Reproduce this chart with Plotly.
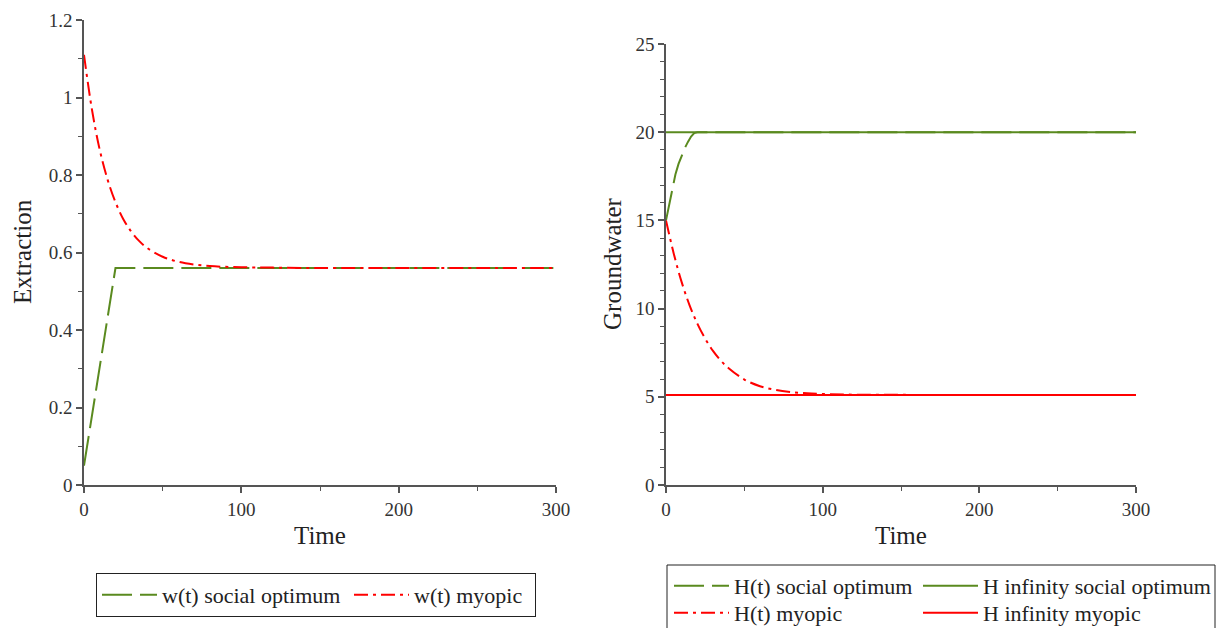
import plotly.graph_objects as go

# ---------------- data ----------------
t_w_social = [0, 20, 300]
w_social = [0.05, 0.56, 0.56]

t_w_myopic = [0, 5, 10, 15, 20, 25, 30, 35, 40, 50, 60, 70, 80, 90, 100, 120, 150, 200, 250, 300]
w_myopic = [1.11, 0.97, 0.865, 0.788, 0.730, 0.686, 0.654, 0.630, 0.612, 0.589, 0.576, 0.569,
            0.565, 0.563, 0.562, 0.561, 0.56, 0.56, 0.56, 0.56]

t_H_social = [0, 2, 4, 6, 8, 10, 12, 14, 16, 18, 20, 300]
H_social = [15, 15.9, 16.8, 17.6, 18.2, 18.7, 19.1, 19.45, 19.75, 19.95, 20, 20]

t_H_myopic = [0, 5, 10, 15, 20, 25, 30, 35, 40, 50, 60, 70, 80, 90, 100, 120, 150, 200, 250, 300]
H_myopic = [15.0, 13.1, 11.5, 10.2, 9.15, 8.3, 7.6, 7.05, 6.62, 5.98, 5.6, 5.39, 5.27,
            5.2, 5.16, 5.12, 5.11, 5.1, 5.1, 5.1]

t_H_inf = [0, 300]
H_inf_social = [20, 20]
H_inf_myopic = [5.1, 5.1]

x_ticks = [0, 100, 200, 300]
names = {
    "ws": "w(t) social optimum", "wm": "w(t) myopic",
    "Hs": "H(t) social optimum", "Hm": "H(t) myopic",
    "His": "H infinity social optimum", "Him": "H infinity myopic",
}

# ---------------- styling ----------------
W, H = 1221, 628
def px(x): return x / W
def py(y): return 1 - y / H

GREEN = "#5a8a1f"
RED = "#ff0000"
FONT = "Liberation Serif"
AXC = "#555555"
DASH_G = "30px,8px"
DASH_R = "14px,5px,3px,5px"

fig = go.Figure()

fig.add_trace(go.Scatter(x=t_w_social, y=w_social, mode="lines", name=names["ws"],
                         line=dict(color=GREEN, width=2, dash=DASH_G),
                         xaxis="x", yaxis="y", legend="legend", legendwidth=182))
fig.add_trace(go.Scatter(x=t_w_myopic, y=w_myopic, mode="lines", name=names["wm"],
                         line=dict(color=RED, width=2, dash=DASH_R, shape="spline"),
                         xaxis="x", yaxis="y", legend="legend", legendwidth=116))

fig.add_trace(go.Scatter(x=t_H_inf, y=H_inf_social, mode="lines", name=names["His"],
                         line=dict(color=GREEN, width=2),
                         xaxis="x2", yaxis="y2", legend="legend3"))
fig.add_trace(go.Scatter(x=t_H_inf, y=H_inf_myopic, mode="lines", name=names["Him"],
                         line=dict(color=RED, width=2),
                         xaxis="x2", yaxis="y2", legend="legend5"))
fig.add_trace(go.Scatter(x=t_H_social, y=H_social, mode="lines", name=names["Hs"],
                         line=dict(color=GREEN, width=2, dash=DASH_G),
                         xaxis="x2", yaxis="y2", legend="legend2"))
fig.add_trace(go.Scatter(x=t_H_myopic, y=H_myopic, mode="lines", name=names["Hm"],
                         line=dict(color=RED, width=2, dash=DASH_R, shape="spline"),
                         xaxis="x2", yaxis="y2", legend="legend4"))

tickfont = dict(family=FONT, size=19, color="#333333")

def xax(domain, anchor):
    return dict(domain=domain, anchor=anchor, range=[0, 300], tickvals=x_ticks,
                ticks="outside", ticklen=6, tickwidth=1.5, tickcolor=AXC,
                showline=True, linecolor=AXC, linewidth=1.5, automargin=False,
                showgrid=False, zeroline=False, tickfont=tickfont,
                minor=dict(dtick=50, tick0=0, ticks="outside", ticklen=4, tickcolor=AXC, tickwidth=1.2))

def yax(domain, anchor, rng, dtick, mdtick):
    return dict(domain=domain, anchor=anchor, range=rng, dtick=dtick, tick0=0,
                ticks="outside", ticklen=6, tickwidth=1.5, tickcolor=AXC,
                showline=True, linecolor=AXC, linewidth=1.5, automargin=False,
                showgrid=False, zeroline=False, tickfont=tickfont,
                minor=dict(dtick=mdtick, tick0=0, ticks="outside", ticklen=4, tickcolor=AXC, tickwidth=1.2))

legfont = dict(family=FONT, size=22, color="#222222")

def sublegend(x, y):
    return dict(x=px(x), y=py(y), xanchor="left", yanchor="top", orientation="v",
                borderwidth=0, bgcolor="rgba(0,0,0,0)", font=legfont, itemwidth=55)

fig.update_layout(
    width=W, height=H,
    margin=dict(l=0, r=0, t=0, b=0, autoexpand=False),
    paper_bgcolor="white", plot_bgcolor="white",
    xaxis=xax([px(84), px(556)], "y"),
    yaxis=yax([py(485), py(20)], "x", [0, 1.2], 0.2, 0.1),
    xaxis2=xax([px(666), px(1136)], "y2"),
    yaxis2=yax([py(485), py(44)], "x2", [0, 25], 5, 1),
    legend=dict(x=px(96), y=py(573), xanchor="left", yanchor="top", orientation="h",
                bordercolor="#222222", borderwidth=1, bgcolor="white", font=legfont,
                itemwidth=55),
    legend2=sublegend(669, 565),
    legend3=sublegend(918, 565),
    legend4=sublegend(669, 592),
    legend5=sublegend(918, 592),
    shapes=[dict(type="rect", xref="paper", yref="paper",
                 x0=px(667), x1=px(1215), y0=py(660), y1=py(565),
                 line=dict(color="#222222", width=1), fillcolor="rgba(0,0,0,0)")],
    showlegend=True,
)

titlefont = dict(family=FONT, size=25, color="#222222")
for txt, x, y, ang in [("Extraction", 22, 252, -90), ("Time", 320, 535, 0),
                       ("Groundwater", 612, 264, -90), ("Time", 901, 535, 0)]:
    fig.add_annotation(text=txt, x=px(x), y=py(y), xref="paper", yref="paper",
                       showarrow=False, textangle=ang, font=titlefont,
                       xanchor="center", yanchor="middle")

fig.write_html("out.html")
